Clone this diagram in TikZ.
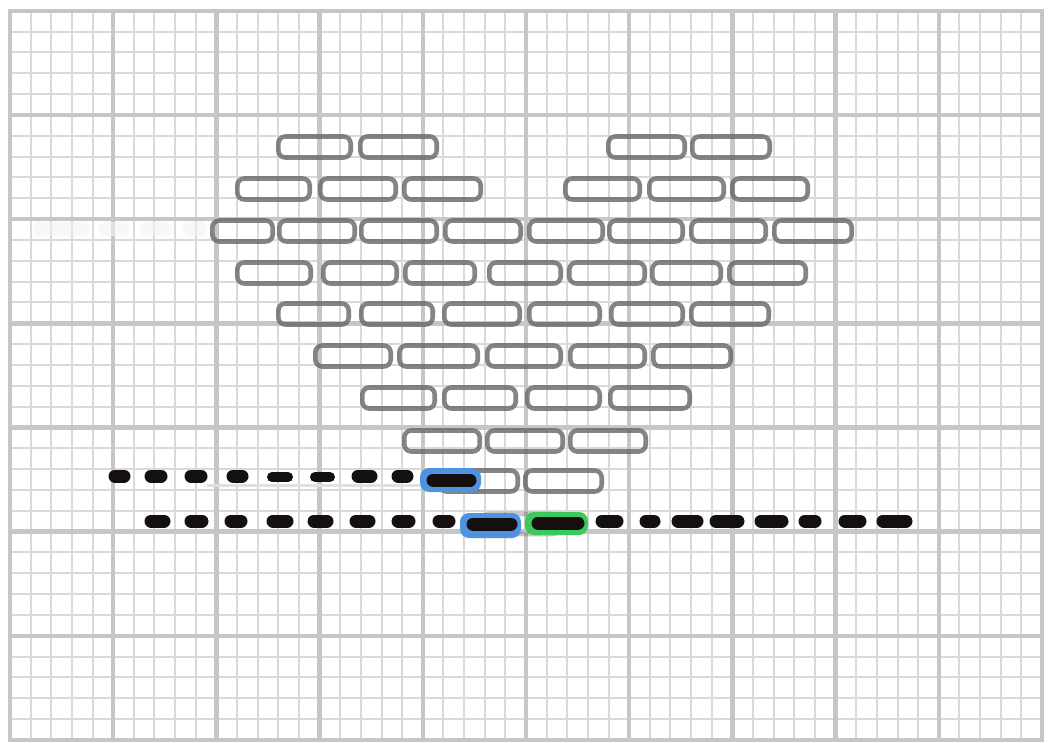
\documentclass[tikz,border=0pt]{standalone}
\usetikzlibrary{calc}
\definecolor{minorc}{HTML}{D9D9D9}
\definecolor{majorc}{HTML}{C6C6C6}
\definecolor{brickc}{HTML}{666666}
\definecolor{hblue}{HTML}{4F93E0}
\definecolor{hgreen}{HTML}{3CC85A}
\definecolor{inkc}{HTML}{141010}
\tikzset{
  minorline/.style={draw=minorc, line width=2pt},
  majorline/.style={draw=majorc, line width=4.5pt},
  brick/.style={draw=brickc, draw opacity=0.8, line width=4.6pt, rounded corners=7pt},
  inkdash/.style={draw=inkc, line width=13pt, line cap=round},
  thindash/.style={draw=inkc, line width=10pt, line cap=round},
  smudge/.style={draw=black!5, line width=14pt, line cap=round, draw opacity=0.6},
}
\newcommand{\brk}[3]{\draw[brick] ({#1+2.3},{#3-10.5}) rectangle ({#2-2.3},{#3+10.5});}
\begin{document}
\begin{tikzpicture}[x=1pt,y=-1pt]
\useasboundingbox (0,0) rectangle (1049,743);
\fill[white] (0,0) rectangle (1049,743);
% minor grid
\foreach \i in {0,...,50} { \draw[minorline] ({10+\i*20.64},10.8) -- ({10+\i*20.64},740); }
\foreach \j in {0,...,35} { \draw[minorline] (10,{10.8+\j*20.833}) -- (1042,{10.8+\j*20.833}); }
% major grid
\foreach \i in {0,...,10} { \draw[majorline] ({10+\i*103.2},8.6) -- ({10+\i*103.2},742.2); }
\foreach \j in {0,...,7} { \draw[majorline] (7.8,{10.8+\j*104.167}) -- (1044.2,{10.8+\j*104.167}); }
% faint smudges left of row 3
\foreach \a/\b in {40/83, 105/123, 147/165, 190/200} { \draw[smudge] (\a,229) -- (\b,229); }
% faint erased stroke under top dashed line
\draw[draw=black!12, line width=3pt] (207,485) -- (420,485);
% bricks
\foreach \a/\b in {276/353, 358/439, 606/687, 690/772} { \brk{\a}{\b}{147} }
\foreach \a/\b in {235/312, 318/398, 402/483, 563/642, 647/726, 730/810} { \brk{\a}{\b}{189} }
\foreach \a/\b in {210/275, 277/357, 359/439, 443/523, 527/605, 607/685, 689/768, 772/854} { \brk{\a}{\b}{231} }
\foreach \a/\b in {235/313, 321/399, 403/477, 487/563, 567/647, 650/723, 727/808} { \brk{\a}{\b}{273} }
\foreach \a/\b in {276/351, 359/435, 442/522, 527/602, 609/685, 689/771} { \brk{\a}{\b}{314} }
\foreach \a/\b in {313/393, 397/480, 485/563, 568/647, 651/733} { \brk{\a}{\b}{356} }
\foreach \a/\b in {360/437, 442/518, 525/602, 608/692} { \brk{\a}{\b}{398} }
\foreach \a/\b in {402/482, 485/565, 568/648} { \brk{\a}{\b}{441} }
\foreach \a/\b in {437/520, 523/604} { \brk{\a}{\b}{481} }
\draw[brick, draw opacity=0.35] (482,514) rectangle (560,534);
% highlights
\fill[hblue, rounded corners=9pt] (420,468) rectangle (481,492);
\fill[hblue, rounded corners=9pt] (460,513) rectangle (521,538);
\fill[hgreen, rounded corners=9pt] (525,512) rectangle (588,535);
% top dashed line
\foreach \a/\b in {109/130, 145/167, 185/207, 227/248, 352/377, 392/413} { \draw[inkdash] ({\a+6},476) -- ({\b-6},476); }
\foreach \a/\b in {267/293, 310/335} { \draw[thindash] ({\a+5},477) -- ({\b-5},477); }
\draw[inkdash] (433,480) -- (470,480);
% bottom dashed line
\foreach \a/\b in {145/170, 185/208, 225/247, 267/293, 308/333, 350/375, 392/415, 433/455, 596/623, 640/660, 672/703, 710/744, 755/788, 799/821, 839/866, 877/912} { \draw[inkdash] ({\a+6},521) -- ({\b-6},521); }
\draw[inkdash] (473,524) -- (511,524);
\draw[inkdash] (538,523) -- (578,523);
\end{tikzpicture}
\end{document}
